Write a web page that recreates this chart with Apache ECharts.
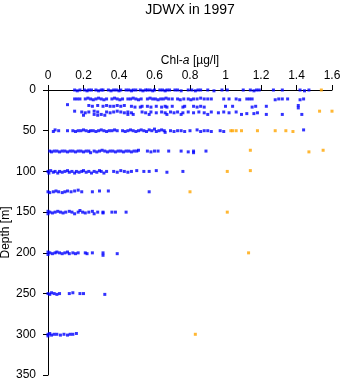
<!DOCTYPE html>
<html><head><meta charset="utf-8">
<script src="https://cdn.jsdelivr.net/npm/echarts@6/dist/echarts.min.js"></script>
<style>html,body{margin:0;padding:0;background:#fff}#c{width:343px;height:384px}</style>
</head><body><div id="c"></div>
<script>
const xTicks = ['0','0.2','0.4','0.6','0.8','1','1.2','1.4','1.6'];
const yTicks = [0,50,100,150,200,250,300,350];
// [Chl-a, depth] pairs, blue group, by depth band
const blue0 = [[0.15,0],[0.165,1],[0.18,0],[0.19,-1],[0.205,0],[0.22,1],[0.23,0],[0.245,0],[0.26,-1],[0.27,0],[0.285,1],[0.30,0],[0.31,0],[0.325,-1],[0.34,0],[0.355,1],[0.37,0],[0.385,0],[0.40,1],[0.41,0],[0.425,-1],[0.44,0],[0.455,0],[0.47,1],[0.48,0],[0.495,0],[0.51,-1],[0.52,0],[0.535,1],[0.55,0],[0.56,0],[0.575,0],[0.59,1],[0.60,0],[0.615,-1],[0.63,0],[0.645,0],[0.66,1],[0.67,0],[0.685,0],[0.70,-1],[0.715,0],[0.73,0],[0.75,1],[0.79,0],[0.81,0],[0.83,1],[0.845,0],[0.86,0],[0.90,0],[0.935,1],[0.98,0],[1.01,0],[1.10,0],[1.14,0],[1.16,1],[1.175,0],[1.19,0],[1.27,0],[1.32,0],[1.42,0],[1.445,1],[1.47,0]];
const blue10 = [[0.15,11],[0.165,11],[0.18,11],[0.21,11],[0.225,10],[0.24,11],[0.255,12],[0.27,11],[0.285,10],[0.30,11],[0.315,12],[0.33,11],[0.36,11],[0.375,10],[0.39,11],[0.405,12],[0.42,11],[0.45,11],[0.465,11],[0.48,10],[0.495,11],[0.51,12],[0.525,11],[0.56,11],[0.575,10],[0.59,11],[0.605,11],[0.62,12],[0.635,11],[0.65,11],[0.665,10],[0.68,11],[0.70,11],[0.73,11],[0.745,12],[0.765,11],[0.79,11],[0.805,12],[0.82,11],[0.84,11],[0.86,10],[0.88,11],[0.90,11],[0.92,11],[0.99,11],[1.02,11],[1.06,11],[1.08,12],[1.12,11],[1.135,11],[1.15,11],[1.28,12],[1.30,11],[1.32,11],[1.35,11],[1.42,12],[1.44,11]];
const blue20 = [[0.11,18],[0.23,19],[0.25,20],[0.28,19],[0.31,20],[0.33,19],[0.35,20],[0.37,20],[0.39,19],[0.41,20],[0.43,19],[0.47,20],[0.49,21],[0.53,20],[0.52,21],[0.56,20],[0.58,21],[0.61,20],[0.64,21],[0.66,20],[0.67,21],[0.70,20],[0.76,21],[0.77,20],[0.82,20],[0.84,21],[0.86,20],[0.88,21],[1.0,20],[1.04,20],[1.15,21],[1.17,20],[1.23,20],[1.41,19],[1.41,22]];
const blue30 = [[0.15,26],[0.19,27],[0.21,28],[0.23,27],[0.26,26],[0.28,27],[0.2,31],[0.26,30],[0.28,31],[0.30,30],[0.32,31],[0.33,27],[0.35,28],[0.37,27],[0.39,26],[0.41,27],[0.43,28],[0.45,27],[0.45,30],[0.47,28],[0.48,30],[0.53,27],[0.55,28],[0.57,30],[0.58,27],[0.61,28],[0.64,27],[0.66,28],[0.67,30],[0.69,27],[0.71,28],[0.73,27],[0.75,30],[0.76,28],[0.79,27],[0.82,28],[0.85,27],[0.88,28],[0.90,30],[0.92,27],[0.96,28],[0.99,27],[1.02,28],[1.06,27],[1.09,30],[1.12,29],[1.16,29],[1.18,28],[1.23,30],[1.32,30],[1.43,30]];
const blue50 = [[0.03,51],[0.04,49],[0.06,50],[0.11,50],[0.14,50],[0.155,51],[0.17,50],[0.185,50],[0.20,49],[0.215,50],[0.23,51],[0.24,50],[0.255,50],[0.27,51],[0.285,50],[0.30,49],[0.315,50],[0.33,51],[0.345,50],[0.36,50],[0.375,49],[0.39,50],[0.42,50],[0.435,51],[0.45,50],[0.465,49],[0.48,50],[0.495,51],[0.51,50],[0.525,49],[0.54,50],[0.555,51],[0.57,49],[0.585,50],[0.60,48],[0.61,51],[0.625,50],[0.64,49],[0.655,50],[0.66,52],[0.69,50],[0.71,51],[0.73,50],[0.75,50],[0.77,51],[0.80,50],[0.84,49],[0.86,51],[0.88,50],[0.90,50],[0.92,51],[0.97,50],[0.99,51],[1.44,49]];
const blue75 = [[0.01,75],[0.02,76],[0.035,75],[0.05,75],[0.065,76],[0.08,75],[0.095,75],[0.11,76],[0.125,75],[0.14,75],[0.155,76],[0.17,75],[0.185,75],[0.20,76],[0.215,75],[0.23,75],[0.24,77],[0.26,75],[0.275,76],[0.29,75],[0.305,74],[0.32,75],[0.335,76],[0.35,75],[0.365,75],[0.38,76],[0.395,75],[0.41,75],[0.425,76],[0.44,75],[0.455,75],[0.47,76],[0.485,75],[0.50,75],[0.51,74],[0.56,75],[0.58,76],[0.60,75],[0.62,75],[0.68,75],[0.75,75],[0.79,76],[0.82,75],[0.82,77],[0.89,75]];
const blue100 = [[0.0,100],[0.005,102],[0.015,99],[0.03,101],[0.04,100],[0.055,102],[0.065,100],[0.08,101],[0.095,100],[0.11,99],[0.12,101],[0.135,100],[0.15,102],[0.16,100],[0.175,101],[0.19,100],[0.20,99],[0.215,101],[0.23,100],[0.245,102],[0.26,100],[0.275,101],[0.29,99],[0.30,100],[0.315,102],[0.33,100],[0.37,100],[0.39,101],[0.41,99],[0.43,100],[0.45,101],[0.47,100],[0.50,99],[0.54,100],[0.57,100],[0.61,99],[0.67,101],[0.76,100]];
const blue125 = [[0.0,125],[0.01,126],[0.03,125],[0.045,124],[0.06,125],[0.08,126],[0.095,125],[0.11,124],[0.13,125],[0.15,124],[0.17,123],[0.19,125],[0.25,125],[0.29,124],[0.34,124],[0.57,125]];
const blue150 = [[0.0,149],[0.0,152],[0.01,150],[0.025,151],[0.04,150],[0.055,149],[0.07,150],[0.085,151],[0.10,150],[0.12,149],[0.135,150],[0.15,152],[0.17,150],[0.18,148],[0.195,150],[0.21,151],[0.23,150],[0.25,149],[0.26,152],[0.28,150],[0.31,150],[0.31,151],[0.36,150],[0.38,150],[0.44,150]];
const blue200 = [[0.0,199],[0.0,202],[0.01,200],[0.025,201],[0.04,200],[0.05,199],[0.065,200],[0.08,201],[0.095,200],[0.11,199],[0.12,201],[0.14,200],[0.155,201],[0.17,200],[0.21,200],[0.22,201],[0.25,200],[0.31,200],[0.31,203],[0.39,201]];
const blue250 = [[0.0,250],[0.01,251],[0.02,249],[0.035,250],[0.05,251],[0.065,250],[0.12,250],[0.14,249],[0.18,250],[0.20,250],[0.32,251]];
const blue300 = [[0.0,300],[0.0,302],[0.01,299],[0.02,301],[0.035,300],[0.05,300],[0.07,301],[0.09,300],[0.11,301],[0.125,300],[0.14,300],[0.16,299]];
// orange group
const orangePts = [[1.54,0],[1.53,26],[1.60,26],[1.03,50],[1.04,50],[1.06,50],[1.09,50],[1.18,50],[1.28,50],[1.34,50],[1.38,51],[1.14,74],[1.47,76],[1.55,74],[1.01,100],[1.14,99],[0.80,125],[1.01,150],[1.13,200],[0.83,300]];

const bluePts = [].concat(blue0,blue10,blue20,blue30,blue50,blue75,blue100,blue125,blue150,blue200,blue250,blue300);
const FONT = 'Liberation Sans, Arial, sans-serif';
const chart = echarts.init(document.getElementById('c'), null, {renderer:'canvas'});
chart.setOption({
  animation:false,
  backgroundColor:'#fff',
  title:{text:'JDWX in 1997', left:190, top:3, padding:0, textAlign:'center',
    textStyle:{fontFamily:FONT, fontSize:14, fontWeight:'normal', color:'#000'}},
  grid:{left:48, right:11, top:90, bottom:9, containLabel:false, outerBoundsMode:'none'},
  xAxis:{type:'value', position:'top', min:0, max:1.6, interval:0.2,
    name:'{n|Chl-}{i|a}{n| [µg/l]}', nameLocation:'middle', nameGap:23, nameMoveOverlap:false,
    nameTextStyle:{fontFamily:FONT, fontSize:12, color:'#000', fontStyle:'normal',
      rich:{n:{fontStyle:'normal', fontFamily:FONT, fontSize:12, color:'#000'},
            i:{fontStyle:'italic', fontFamily:FONT, fontSize:12, color:'#000'}}},
    axisLine:{show:true, onZero:false, lineStyle:{color:'#000', width:1}},
    axisTick:{show:true, inside:false, length:5, lineStyle:{color:'#000'}},
    axisLabel:{margin:8, fontFamily:FONT, fontSize:12, color:'#000', formatter:(v,i)=>xTicks[i]},
    splitLine:{show:false}},
  yAxis:{type:'value', inverse:true, min:0, max:350, interval:50,
    name:'Depth [m]', nameLocation:'middle', nameGap:36, nameRotate:90, nameMoveOverlap:false,
    nameTextStyle:{fontFamily:FONT, fontSize:12, color:'#000'},
    axisLine:{show:true, onZero:false, lineStyle:{color:'#000', width:1}},
    axisTick:{show:true, inside:false, length:5, lineStyle:{color:'#000'}},
    axisLabel:{margin:12, fontFamily:FONT, fontSize:12, color:'#000', formatter:(v,i)=>String(yTicks[i])},
    splitLine:{show:false}},
  series:[
    {type:'scatter', data:bluePts, symbol:'rect', symbolSize:3, itemStyle:{color:'#0000ff'}, z:2},
    {type:'scatter', data:orangePts, symbol:'rect', symbolSize:3, itemStyle:{color:'#ffa500'}, z:3}
  ]
});
</script></body></html>
